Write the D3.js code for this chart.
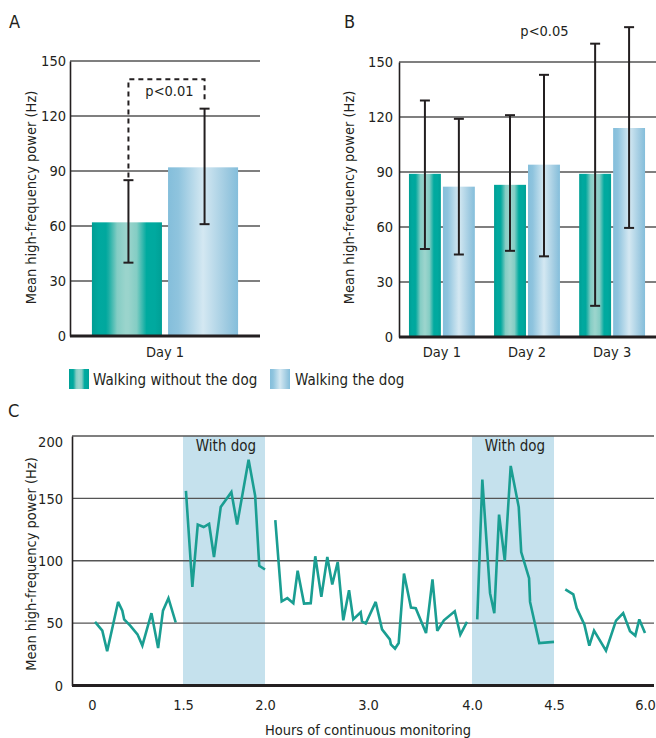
<!DOCTYPE html>
<html>
<head>
<meta charset="utf-8">
<script src="https://cdn.jsdelivr.net/npm/d3@7"></script>
<style>
  html, body { margin: 0; padding: 0; background: #fff; }
  svg { display: block; }
  text { font-family: "DejaVu Sans Condensed", "Liberation Sans", sans-serif; fill: #231f20; }
</style>
</head>
<body>
<svg id="chart" width="656" height="738"></svg>
<script>
// ---------- DATA ----------
const seriesNames = ["Walking without the dog", "Walking the dog"];

// Panel A
const daysA = ["Day 1"];
const aWithout = [62], aWithoutLow = [40], aWithoutHigh = [85];
const aWith = [92], aWithLow = [61], aWithHigh = [124];
const aPLabel = "p<0.01";
const aBracketTop = 140, aBracketLeftFrom = 86.5, aBracketRightTo = 129;

// Panel B
const daysB = ["Day 1", "Day 2", "Day 3"];
const bWithout = [89, 83, 89], bWithoutLow = [48, 47, 17], bWithoutHigh = [129, 121, 160];
const bWith = [82, 94, 114], bWithLow = [45, 44, 59.5], bWithHigh = [119, 143, 169];
const bPLabel = "p<0.05";

const barTicks = [0, 30, 60, 90, 120, 150];

// Panel C (null = gap in recording)
const cHours = [
  0.05,0.17,0.25,0.43,0.50,0.53,0.63,0.75,0.83,0.98,1.09,1.17,1.26,1.38, null,
  1.518,1.557,1.59,1.626,1.659,1.689,1.73,1.795,1.83,1.90,1.94,1.965,2.0, null,
  2.10,2.162,2.217,2.275,2.317,2.379,2.444,2.488,2.547,2.605,2.653,2.706,2.76,2.816,2.857,2.929,2.942,2.978,
  3.074,3.135,3.21,3.22,3.26,3.295,3.346,3.413,3.459,3.558,3.62,3.666,3.73,3.834,3.888,3.952, null,
  4.032,4.063,4.11,4.136,4.165,4.20,4.236,4.285,4.30,4.348,4.354,4.41,4.50, null,
  4.686,4.818,4.874,5.0,5.082,5.16,5.357,5.522,5.64,5.753,5.84,5.906,6.0
];
const cValues = [
  51,44,27.5,67,60,53,48,41,32,58,30,60,70,50.5, null,
  156,79,129,127,129.5,103,143,155,129,181,152,96,93, null,
  132.5,67.5,70,66,92,65.7,66,103.6,71,103,81,99,52.3,76.4,53,58.7,51.3,49.7,
  67,45,37,33,29.6,34,89.7,62.5,62,42,85,43.8,52.3,59.5,40.8,51, null,
  53,165,74,58,137,100,176,143,107,86,67,34,35, null,
  77,73,62,49,32,44,28,52,58,43.5,40,53,42
];
const cTickHours = [0, 1.5, 2, 3, 4, 4.5, 6];
const cTicks = [0, 50, 100, 150, 200];
const dogPeriods = [[1.5, 2.0], [4.0, 4.5]];
const dogLabel = "With dog";

// ---------- STYLE ----------
const teal = "#1a9e92";
const gridColor = "#555";
const ink = "#231f20";
const FONT = "DejaVu Sans Condensed, Liberation Sans, sans-serif";
const FS = 14.5;

const svg = d3.select("#chart");
const defs = svg.append("defs");

function addGrad(id, stops) {
  const g = defs.append("linearGradient").attr("id", id)
    .attr("x1", "0%").attr("x2", "100%").attr("y1", "0%").attr("y2", "0%");
  stops.forEach(([o, c]) => g.append("stop").attr("offset", o).attr("stop-color", c));
}
addGrad("gTeal", [[0, "#009e94"], [0.1, "#00a99f"], [0.2, "#00a89e"], [0.24, "#1aaea4"],
  [0.36, "#84cdc4"], [0.48, "#9ad4cc"], [0.52, "#9ad4cc"], [0.64, "#84cdc4"], [0.78, "#00aa9f"], [0.9, "#00a99f"], [1, "#009f95"]]);
addGrad("gBlue", [[0, "#84bedb"], [0.15, "#8fc4de"], [0.5, "#d4e8f2"], [0.85, "#9cc9e0"], [1, "#84bedb"]]);
const fills = ["url(#gTeal)", "url(#gBlue)"];

// ---------- BAR PANEL ----------
function barPanel(opt) {
  const g = svg.append("g");
  const y = d3.scaleLinear().domain([0, 150]).range([opt.y0, opt.y1]);
  const x = d3.scaleBand().domain(opt.days).range([opt.x0, opt.x1])
    .paddingInner(opt.padIn).paddingOuter(opt.padOut);
  const xi = d3.scaleBand().domain([0, 1]).range([0, x.bandwidth()]).paddingInner(opt.barGap);

  g.append("g").selectAll("line").data(barTicks.filter(t => t > 0)).join("line")
    .attr("x1", opt.x0).attr("x2", opt.gridEnd)
    .attr("y1", d => y(d)).attr("y2", d => y(d))
    .attr("stroke", gridColor).attr("stroke-width", 1.3);

  const ax = g.append("g").attr("transform", `translate(${opt.x0},0)`)
    .call(d3.axisLeft(y).tickValues(barTicks).tickSize(0).tickPadding(opt.tickPad));
  ax.select(".domain").attr("stroke", ink).attr("stroke-width", 1.6);
  ax.selectAll("text").attr("font-size", FS).attr("fill", ink).attr("font-family", FONT);

  const rows = [];
  opt.days.forEach((d, i) => {
    rows.push({ day: d, s: 0, v: opt.without[i], lo: opt.withoutLow[i], hi: opt.withoutHigh[i] });
    rows.push({ day: d, s: 1, v: opt.with[i], lo: opt.withLow[i], hi: opt.withHigh[i] });
  });

  g.append("g").selectAll("rect").data(rows).join("rect")
    .attr("x", d => x(d.day) + xi(d.s)).attr("width", xi.bandwidth())
    .attr("y", d => y(d.v)).attr("height", d => y(0) - y(d.v))
    .attr("fill", d => fills[d.s]);

  const cx = d => x(d.day) + xi(d.s) + xi.bandwidth() / 2 + opt.errShift;
  const eb = g.append("g").attr("stroke", ink).attr("stroke-width", 2);
  eb.selectAll("line.v").data(rows).join("line").attr("class", "v")
    .attr("x1", cx).attr("x2", cx).attr("y1", d => y(d.lo)).attr("y2", d => y(d.hi));
  eb.selectAll("line.t").data(rows).join("line").attr("class", "t")
    .attr("x1", d => cx(d) - 5).attr("x2", d => cx(d) + 5).attr("y1", d => y(d.hi)).attr("y2", d => y(d.hi));
  eb.selectAll("line.b").data(rows).join("line").attr("class", "b")
    .attr("x1", d => cx(d) - 5).attr("x2", d => cx(d) + 5).attr("y1", d => y(d.lo)).attr("y2", d => y(d.lo));

  g.append("line").attr("x1", opt.x0).attr("x2", opt.gridEnd)
    .attr("y1", y(0)).attr("y2", y(0)).attr("stroke", ink).attr("stroke-width", 3);

  g.append("g").selectAll("text").data(opt.days).join("text")
    .attr("x", d => x(d) + x.bandwidth() / 2).attr("y", opt.dayBase)
    .attr("text-anchor", "middle").attr("font-size", FS).text(d => d);

  g.append("text").attr("transform", `translate(${opt.titleX},${opt.titleY}) rotate(-90)`)
    .attr("text-anchor", "middle").attr("font-size", FS).text("Mean high-frequency power (Hz)");

  g.append("text").attr("x", opt.letterX).attr("y", 28)
    .attr("font-family", "Liberation Sans, Arial, sans-serif").attr("font-size", 18).text(opt.letter);

  return { g, x, xi, y, cx, rows };
}

const A = barPanel({
  letter: "A", letterX: 9, days: daysA,
  without: aWithout, withoutLow: aWithoutLow, withoutHigh: aWithoutHigh,
  with: aWith, withLow: aWithLow, withHigh: aWithHigh,
  x0: 70, x1: 260, gridEnd: 260, y0: 336, y1: 61, padIn: 0, padOut: 0.15, barGap: 0.08,
  tickPad: 4, errShift: 1.5, dayBase: 357, titleX: 36, titleY: 197.5
});

{
  const y = A.y, lx = A.cx(A.rows[0]), rx = A.cx(A.rows[1]);
  const p = d3.path();
  p.moveTo(lx, y(aBracketLeftFrom)); p.lineTo(lx, y(aBracketTop));
  p.lineTo(rx, y(aBracketTop)); p.lineTo(rx, y(aBracketRightTo));
  A.g.append("path").attr("d", p.toString()).attr("fill", "none")
    .attr("stroke", ink).attr("stroke-width", 2).attr("stroke-dasharray", "5,4");
  A.g.append("text").attr("x", (lx + rx) / 2 + 3).attr("y", 96).attr("text-anchor", "middle")
    .attr("font-size", FS).text(aPLabel);
}

const B = barPanel({
  letter: "B", letterX: 344, days: daysB,
  without: bWithout, withoutLow: bWithoutLow, withoutHigh: bWithoutHigh,
  with: bWith, withLow: bWithLow, withHigh: bWithHigh,
  x0: 399, x1: 655, gridEnd: 656, y0: 337, y1: 62, padIn: 0.226, padOut: 0.117, barGap: 0.06,
  tickPad: 6, errShift: 0, dayBase: 357, titleX: 354, titleY: 197.5
});
B.g.append("text").attr("x", 544.5).attr("y", 36).attr("text-anchor", "middle")
  .attr("font-size", FS).text(bPLabel);

// ---------- LEGEND ----------
{
  const lg = svg.append("g");
  const items = [{ x: 69, tx: 93 }, { x: 270, tx: 295 }];
  items.forEach((it, i) => {
    lg.append("rect").attr("x", it.x).attr("y", 369).attr("width", 20).attr("height", 20).attr("fill", fills[i]);
    lg.append("text").attr("x", it.tx).attr("y", 385).attr("font-size", 15).text(seriesNames[i]);
  });
}

// ---------- PANEL C ----------
{
  const g = svg.append("g");
  const x = d3.scaleLinear().domain(cTickHours).range([92, 183, 265, 368, 472, 554, 645]);
  const y = d3.scaleLinear().domain([0, 200]).range([685.5, 436]);
  const left = 72, right = 654;

  g.append("g").selectAll("rect").data(dogPeriods).join("rect")
    .attr("x", d => x(d[0])).attr("width", d => x(d[1]) - x(d[0]))
    .attr("y", y(200)).attr("height", y(0) - y(200)).attr("fill", "#c5e1ed");

  g.append("g").selectAll("text").data(dogPeriods).join("text")
    .attr("x", d => (x(d[0]) + x(d[1])) / 2 + 2).attr("y", 451)
    .attr("text-anchor", "middle").attr("font-size", FS + 0.5).text(dogLabel);

  g.append("g").selectAll("line").data(cTicks.filter(t => t > 0)).join("line")
    .attr("x1", left).attr("x2", right).attr("y1", d => y(d)).attr("y2", d => y(d))
    .attr("stroke", gridColor).attr("stroke-width", 1.3);

  const ay = g.append("g").attr("transform", `translate(${left},0)`)
    .call(d3.axisLeft(y).tickValues(cTicks).tickSize(0).tickPadding(9));
  ay.select(".domain").attr("stroke", ink).attr("stroke-width", 1.6);
  ay.selectAll("text").attr("font-size", FS).attr("fill", ink).attr("font-family", FONT)
    .attr("dy", d => d === 200 ? "0.72em" : "0.32em");

  const pts = cHours.map((h, i) => ({ h, v: cValues[i] }));
  const line = d3.line().defined(d => d.h != null && d.v != null).x(d => x(d.h)).y(d => y(d.v));
  g.append("path").datum(pts).attr("d", line).attr("fill", "none")
    .attr("stroke", teal).attr("stroke-width", 2.6).attr("stroke-linejoin", "miter").attr("stroke-miterlimit", 3);

  g.append("line").attr("x1", left).attr("x2", right).attr("y1", y(0)).attr("y2", y(0))
    .attr("stroke", ink).attr("stroke-width", 3);

  const ax = g.append("g").attr("transform", `translate(0,${y(0)})`)
    .call(d3.axisBottom(x).tickValues(cTickHours).tickSize(0).tickPadding(14)
      .tickFormat(d => d === 0 ? "0" : d3.format(".1f")(d)));
  ax.select(".domain").remove();
  ax.selectAll("text").attr("font-size", FS).attr("fill", ink).attr("font-family", FONT);

  g.append("text").attr("x", 368).attr("y", 735).attr("text-anchor", "middle")
    .attr("font-size", FS).text("Hours of continuous monitoring");

  g.append("text").attr("transform", `translate(36,564) rotate(-90)`)
    .attr("text-anchor", "middle").attr("font-size", FS).text("Mean high-frequency power (Hz)");

  g.append("text").attr("x", 8).attr("y", 417)
    .attr("font-family", "Liberation Sans, Arial, sans-serif").attr("font-size", 18).text("C");
}
</script>
</body>
</html>
